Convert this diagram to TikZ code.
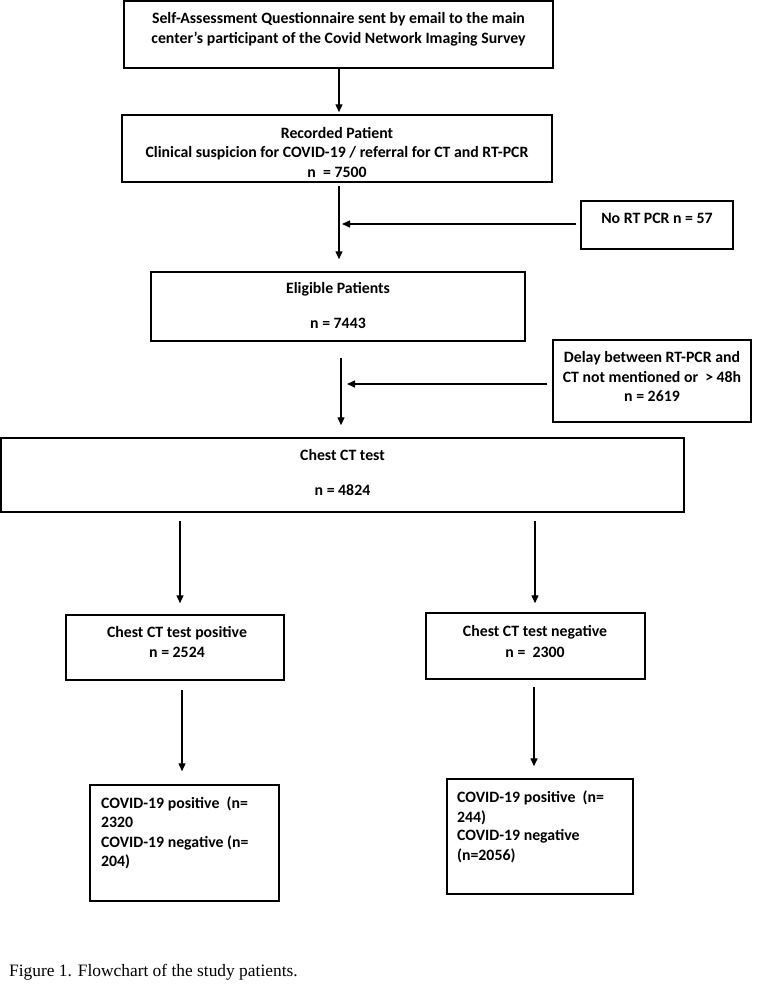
\documentclass[tikz,border=0pt]{standalone}
\usepackage{fontspec}
\setmainfont{Carlito}
\newfontfamily\capfont{Liberation Serif}
\usetikzlibrary{arrows.meta}
\begin{document}
\begin{tikzpicture}[x=1pt,y=-1pt,
  box/.style={draw, line width=1.5pt, inner sep=0pt},
  ln/.style={font=\fontsize{15.8}{19.5}\selectfont\bfseries, anchor=base, inner sep=0pt},
  lnl/.style={ln, anchor=base west},
  arr/.style={line width=1.4pt, -{Triangle[length=8pt,width=7pt]}}]
\fill[white] (0,0) rectangle (756,988);
\useasboundingbox (0,0) rectangle (756,988);

% boxes
\node[box, minimum width=429pt, minimum height=67pt] (top) at (338.5,34.5) {};
\node[box, minimum width=430pt, minimum height=67pt] (rec) at (337,148.5) {};
\node[box, minimum width=152pt, minimum height=48pt] (norpcr) at (657,225) {};
\node[box, minimum width=374pt, minimum height=69pt] (elig) at (338,306.5) {};
\node[box, minimum width=198pt, minimum height=82pt] (delay) at (652,381) {};
\node[box, minimum width=683pt, minimum height=74pt] (chest) at (342.5,475) {};
\node[box, minimum width=218pt, minimum height=65pt] (pos) at (175,647.5) {};
\node[box, minimum width=219pt, minimum height=66pt] (neg) at (535.5,646) {};
\node[box, minimum width=189pt, minimum height=116pt] (bl) at (184.5,843) {};
\node[box, minimum width=186pt, minimum height=115pt] (br) at (540,836.5) {};

% texts
\node[ln] (t1a) at (338.5,23) {Self-Assessment Questionnaire sent by email to the main};
\node[ln] (t1b) at (338.5,43) {center’s participant of the Covid Network Imaging Survey};
\node[ln] (t2a) at (337,138) {Recorded Patient};
\node[ln] (t2b) at (337,157) {Clinical suspicion for COVID-19 / referral for CT and RT-PCR};
\node[ln] (t2c) at (337,177) {n\ \ = 7500};
\node[ln] (t3) at (657,223) {No RT PCR n = 57};
\node[ln] (t4a) at (338,293) {Eligible Patients};
\node[ln] (t4b) at (338,328) {n = 7443};
\node[ln] (t5a) at (652,362) {Delay between RT-PCR and};
\node[ln] (t5b) at (652,382) {CT not mentioned or\ \ > 48h};
\node[ln] (t5c) at (652,401) {n = 2619};
\node[ln] (t6a) at (342.5,460) {Chest CT test};
\node[ln] (t6b) at (342.5,495) {n = 4824};
\node[ln] (t7a) at (177,637) {Chest CT test positive};
\node[ln] (t7b) at (177,657) {n = 2524};
\node[ln] (t8a) at (535,636) {Chest CT test negative};
\node[ln] (t8b) at (535,657) {n =\ \ 2300};
\node[lnl] (t9a) at (101,808) {COVID-19 positive\ \ (n=};
\node[lnl] (t9b) at (101,827) {2320};
\node[lnl] (t9c) at (101,847) {COVID-19 negative (n=};
\node[lnl] (t9d) at (101,866) {204)};
\node[lnl] (t10a) at (457,802) {COVID-19 positive\ \ (n=};
\node[lnl] (t10b) at (457,822) {244)};
\node[lnl] (t10c) at (457,840) {COVID-19 negative};
\node[lnl] (t10d) at (457,860) {(n=2056)};
\node[anchor=base west, inner sep=0pt, font=\capfont\fontsize{17.4}{20}\selectfont] (cap) at (9,976) {Figure 1. Flowchart of the study patients.};

% connector guides
\coordinate (s1) at (339,0);
\coordinate (s2) at (341,0);
\coordinate (j1) at (342,224);
\coordinate (j2) at (347,384);
\coordinate (c1) at (180,0);
\coordinate (c2) at (535,0);
\coordinate (c3) at (182,0);
\coordinate (c4) at (534,0);

% connectors
\draw[arr, shorten >=2pt] (top.south -| s1) -- (rec.north -| s1);
\draw[arr, shorten <=3pt, shorten >=12pt] (rec.south -| s1) -- (elig.north -| s1);
\draw[arr, shorten <=4pt] (norpcr.west |- j1) -- (j1);
\draw[arr, shorten <=16pt, shorten >=12pt] (elig.south -| s2) -- (chest.north -| s2);
\draw[arr, shorten <=5pt] (delay.west |- j2) -- (j2);
\draw[arr, shorten <=8pt, shorten >=11pt] (chest.south -| c1) -- (pos.north -| c1);
\draw[arr, shorten <=8pt, shorten >=9pt] (chest.south -| c2) -- (neg.north -| c2);
\draw[arr, shorten <=9pt, shorten >=13pt] (pos.south -| c3) -- (bl.north -| c3);
\draw[arr, shorten <=7pt, shorten >=12pt] (neg.south -| c4) -- (br.north -| c4);
\end{tikzpicture}
\end{document}
